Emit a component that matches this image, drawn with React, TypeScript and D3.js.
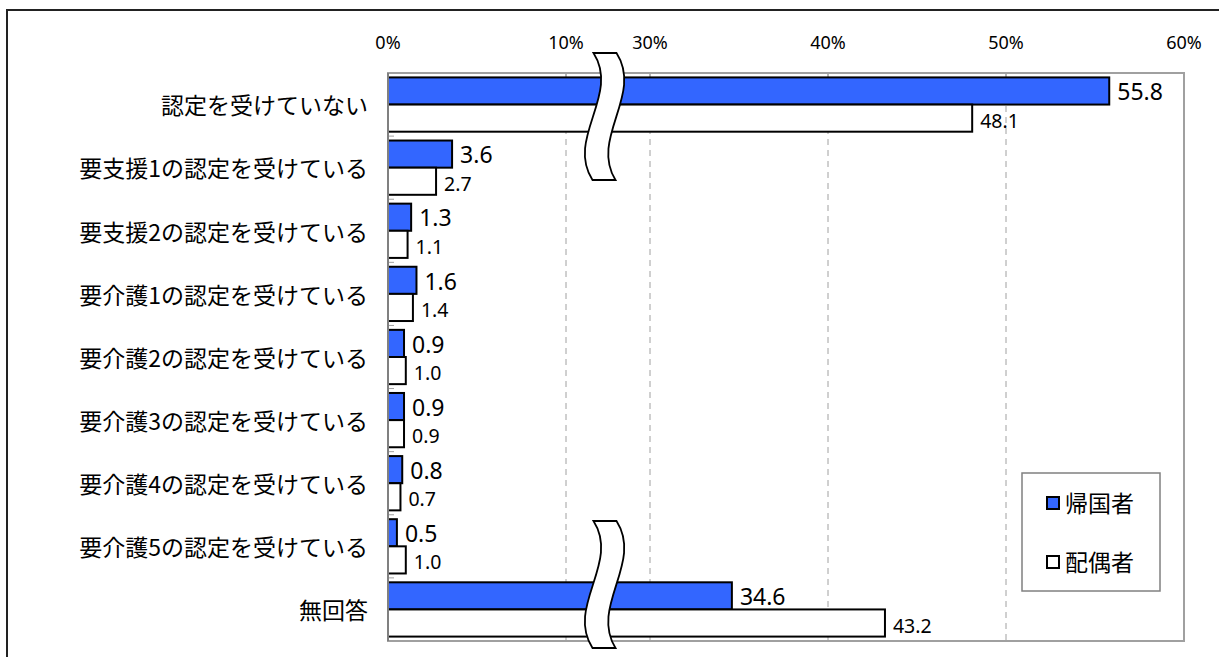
import React from "react";
import * as d3 from "d3";

const categories = [
  "認定を受けていない",
  "要支援1の認定を受けている",
  "要支援2の認定を受けている",
  "要介護1の認定を受けている",
  "要介護2の認定を受けている",
  "要介護3の認定を受けている",
  "要介護4の認定を受けている",
  "要介護5の認定を受けている",
  "無回答",
];
const returnees = [55.8, 3.6, 1.3, 1.6, 0.9, 0.9, 0.8, 0.5, 34.6];
const spouses = [48.1, 2.7, 1.1, 1.4, 1.0, 0.9, 0.7, 1.0, 43.2];
const seriesNames = ["帰国者", "配偶者"];
const tickValues = [0, 10, 30, 40, 50, 60];
const gridValues = [10, 30, 40, 50];

const W = 1219;
const H = 657;
const FONT = "'Noto Sans CJK JP', 'Noto Sans', sans-serif";
const NUMFONT = "'Noto Sans', 'Noto Sans CJK JP', sans-serif";
const BLUE = "#3366FF";

export default function App() {
  const left = 388;
  const right = 1184;
  const top = 73;
  const bottom = 641;

  // broken axis: 0–10 then 30–60, same px per unit
  const x = d3.scaleLinear().domain([0, 10, 30, 60]).range([left, 566, 650, right]);
  const y = d3.scaleBand<string>().domain(categories).range([top, bottom]).padding(0);
  const band = y.bandwidth();
  const barH = band * 0.43;
  const groupOff = (band - 2 * barH) / 2;

  const breakCx = (x(10) + x(30)) / 2 - 3;
  const breakW = 23;
  const breakH = 127;
  const breakPath = (y0: number) => {
    const y1 = y0 + breakH;
    const lx = breakCx - breakW / 2;
    const rx = breakCx + breakW / 2;
    const a = 27;
    return `M${lx},${y0} L${rx},${y0} C${rx + a},${y0 + breakH * 0.33} ${rx - a},${y0 + breakH * 0.67} ${rx - 1},${y1} L${lx - 1},${y1} C${lx - 1 - a},${y0 + breakH * 0.67} ${lx + a},${y0 + breakH * 0.33} ${lx},${y0} Z`;
  };

  return (
    <svg width={W} height={H} style={{ position: "absolute", left: 0, top: 0, background: "#fff" }} fontFamily={FONT}>
      {/* outer frame */}
      <path d={`M7,${H} L7,10 L${W},10`} fill="none" stroke="#222" strokeWidth={2} />

      {/* gridlines */}
      {gridValues.map((v) => (
        <g key={v}>
          <line x1={x(v)} x2={x(v)} y1={top} y2={bottom} stroke="#a0a0a0" strokeWidth={1} strokeDasharray="6,5" />
          <line x1={x(v)} x2={x(v)} y1={top} y2={top + 5} stroke="#a0a0a0" strokeWidth={1} />
        </g>
      ))}

      {/* category ticks on left axis */}
      {categories.map((c, i) => (
        i > 0 ? <line key={c} x1={left} x2={left + 6} y1={y(c)!} y2={y(c)!} stroke="#a0a0a0" strokeWidth={1} /> : null
      ))}

      {/* bars */}
      {categories.map((c, i) => {
        const y0 = y(c)! + groupOff;
        return (
          <g key={c}>
            <rect x={left} y={y0} width={x(returnees[i]) - left} height={barH} fill={BLUE} stroke="#000" strokeWidth={2} />
            <rect x={left} y={y0 + barH} width={x(spouses[i]) - left} height={barH} fill="#fff" stroke="#000" strokeWidth={2} />
            <text x={x(returnees[i]) + 8} y={y0 + barH / 2 + 1} dy="0.36em" fontSize={23} fontFamily={NUMFONT} fill="#000">
              {returnees[i].toFixed(1)}
            </text>
            <text x={x(spouses[i]) + 8} y={y0 + barH * 1.5 + 2.5} dy="0.36em" fontSize={19.5} fontFamily={NUMFONT} fill="#000">
              {spouses[i].toFixed(1)}
            </text>
          </g>
        );
      })}

      {/* plot border */}
      <rect x={left} y={top} width={right - left} height={bottom - top} fill="none" stroke="#a0a0a0" strokeWidth={2} />
      <line x1={left} x2={left} y1={top} y2={bottom} stroke="#808080" strokeWidth={2} />

      {/* axis break marks */}
      <path d={breakPath(top - 20)} fill="#fff" stroke="#000" strokeWidth={1.8} />
      <path d={breakPath(bottom + 7 - breakH)} fill="#fff" stroke="#000" strokeWidth={1.8} />

      {/* x tick labels */}
      {tickValues.map((v) => (
        <text key={v} x={x(v)} y={43} dy="0.36em" textAnchor="middle" fontSize={18} fontFamily={NUMFONT} fill="#000">
          {v}%
        </text>
      ))}

      {/* category labels */}
      {categories.map((c) => (
        <text key={c} x={368} y={y(c)! + band / 2 + 1.5} dy="0.36em" textAnchor="end" fontSize={23} fill="#000">
          {c}
        </text>
      ))}

      {/* legend */}
      <rect x={1022} y={473} width={138} height={118} fill="#fff" stroke="#808080" strokeWidth={1.5} />
      {seriesNames.map((s, i) => {
        const cy = 503 + i * 59;
        return (
          <g key={s}>
            <rect x={1047} y={cy - 6} width={12} height={12} fill={i === 0 ? BLUE : "#fff"} stroke="#000" strokeWidth={2} />
            <text x={1065} y={cy + 1} dy="0.36em" fontSize={23} fill="#000">
              {s}
            </text>
          </g>
        );
      })}
    </svg>
  );
}
